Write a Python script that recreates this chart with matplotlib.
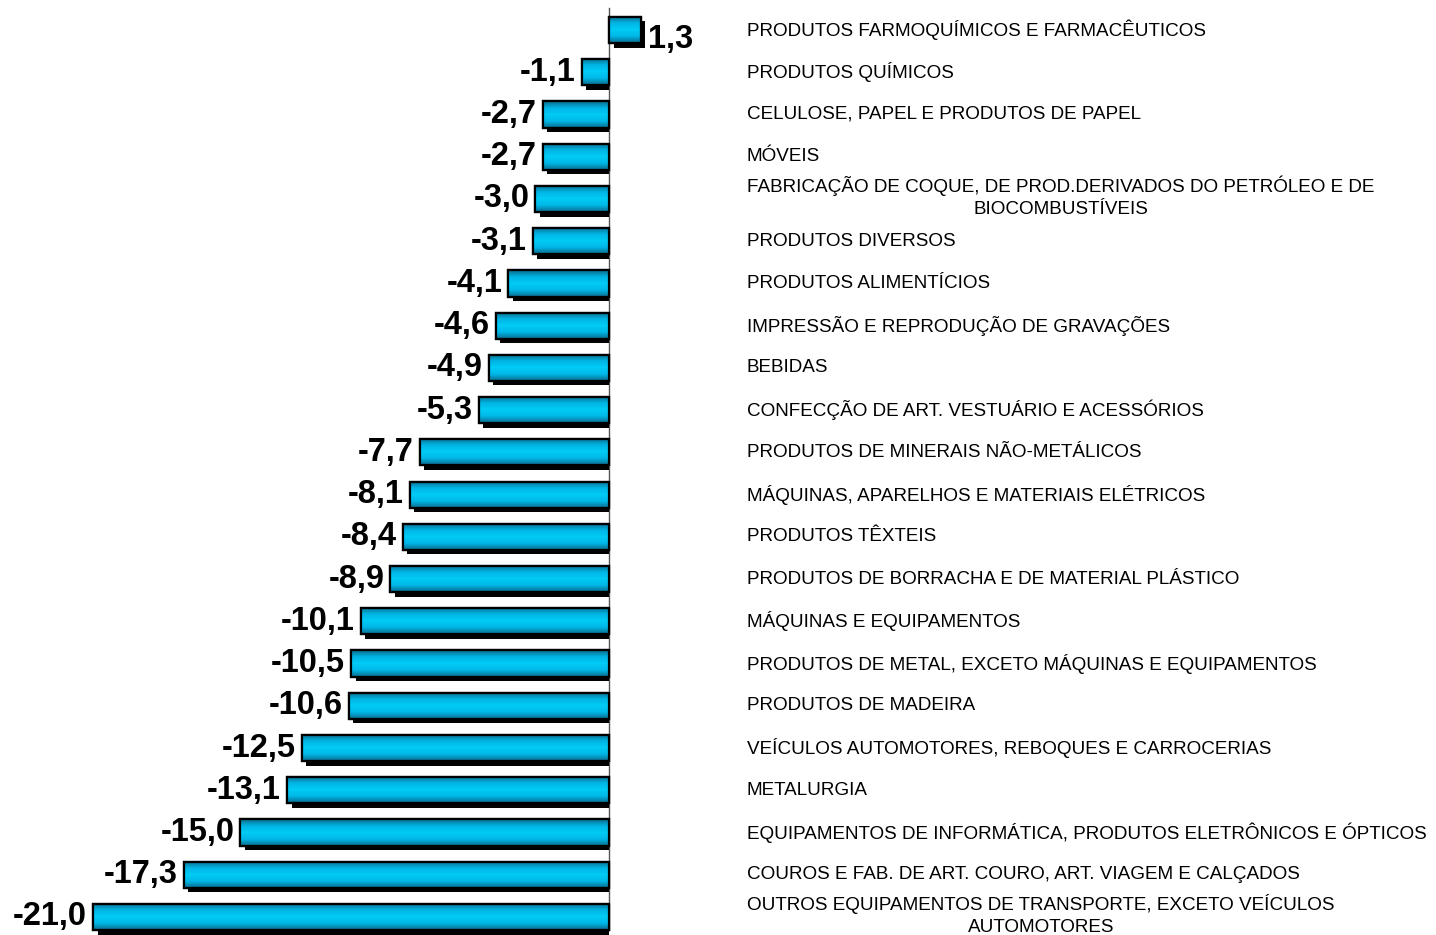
import numpy as np
import matplotlib
matplotlib.use("Agg")
import matplotlib.pyplot as plt
import matplotlib.transforms as mtransforms
from matplotlib.colors import LinearSegmentedColormap

# Dados: variação (%) por atividade industrial
setores = [
    "PRODUTOS FARMOQUÍMICOS E FARMACÊUTICOS",
    "PRODUTOS QUÍMICOS",
    "CELULOSE, PAPEL E PRODUTOS DE PAPEL",
    "MÓVEIS",
    "FABRICAÇÃO DE COQUE, DE PROD.DERIVADOS DO PETRÓLEO E DE\nBIOCOMBUSTÍVEIS",
    "PRODUTOS DIVERSOS",
    "PRODUTOS ALIMENTÍCIOS",
    "IMPRESSÃO E REPRODUÇÃO DE GRAVAÇÕES",
    "BEBIDAS",
    "CONFECÇÃO DE ART. VESTUÁRIO E ACESSÓRIOS",
    "PRODUTOS DE MINERAIS NÃO-METÁLICOS",
    "MÁQUINAS, APARELHOS E MATERIAIS ELÉTRICOS",
    "PRODUTOS TÊXTEIS",
    "PRODUTOS DE BORRACHA E DE MATERIAL PLÁSTICO",
    "MÁQUINAS E EQUIPAMENTOS",
    "PRODUTOS DE METAL, EXCETO MÁQUINAS E EQUIPAMENTOS",
    "PRODUTOS DE MADEIRA",
    "VEÍCULOS AUTOMOTORES, REBOQUES E CARROCERIAS",
    "METALURGIA",
    "EQUIPAMENTOS DE INFORMÁTICA, PRODUTOS ELETRÔNICOS E ÓPTICOS",
    "COUROS E FAB. DE ART. COURO, ART. VIAGEM E CALÇADOS",
    "OUTROS EQUIPAMENTOS DE TRANSPORTE, EXCETO VEÍCULOS\nAUTOMOTORES",
]
valores = [1.3, -1.1, -2.7, -2.7, -3.0, -3.1, -4.1, -4.6, -4.9, -5.3, -7.7,
           -8.1, -8.4, -8.9, -10.1, -10.5, -10.6, -12.5, -13.1, -15.0, -17.3, -21.0]

W, H = 1436, 935
fig = plt.figure(figsize=(W / 100, H / 100), dpi=100)
ax = fig.add_axes([0, 0, 1, 1])
ax.axis("off")

# escala: zero em x=609 px, -21 em x=93 px
px_por_unid = (609 - 93) / 21.0
ax.set_xlim(-609 / px_por_unid, (W - 609) / px_por_unid)
passo = (917 - 30) / 21.0
ax.set_ylim(21 + (H - 917) / passo, -30 / passo)

cmap = LinearSegmentedColormap.from_list(
    "ciano", ["#0b6a8a", "#00b4e4", "#00ccf6", "#00b8e8", "#0a6a8c"])
grad = np.linspace(0, 1, 64).reshape(-1, 1)

altura = 0.62
dx = 4.5 / px_por_unid   # deslocamento da sombra
dy = 4.5 / passo
y = np.arange(len(valores))
barras = ax.barh(y, valores, height=altura, color="#00c0ee",
                 edgecolor="black", linewidth=1.6, zorder=2)
for b, v, yi in zip(barras, valores, y):
    x0, x1 = min(0, v), max(0, v)
    # sombra (cortada no zero para as barras negativas)
    sx0, sx1 = x0 + dx, (x1 + dx if v > 0 else 0)
    ax.add_patch(plt.Rectangle((sx0, yi - altura / 2 + dy), sx1 - sx0, altura,
                               facecolor="black", edgecolor="none", zorder=1.5))
    im = ax.imshow(grad, extent=[x0, x1, yi + altura / 2, yi - altura / 2],
                   aspect="auto", cmap=cmap, zorder=3, interpolation="bilinear")
    im.set_clip_path(b)
    ax.add_patch(plt.Rectangle((x0, yi - altura / 2), x1 - x0, altura, fill=False,
                               edgecolor="black", linewidth=1.6, zorder=4))
    rotulo = f"{v:.1f}".replace(".", ",")
    if v < 0:
        ax.text(v - 6 / px_por_unid, yi, rotulo, ha="right", va="center",
                fontsize=23.5, fontweight="bold", family="Liberation Sans", zorder=5)
    else:
        ax.text(v + 7 / px_por_unid, yi + 0.22, rotulo, ha="left", va="center",
                fontsize=23.5, fontweight="bold", family="Liberation Sans", zorder=5)

# linha do zero
ax.plot([0, 0], [-0.52, 21.3], color="#555555", linewidth=1, zorder=1)

# rótulos das categorias
trans = mtransforms.blended_transform_factory(fig.transFigure, ax.transData)
for s, yi in zip(setores, y):
    ax.text(747 / W, yi - (0.05 if "\n" in s else 0), s, transform=trans,
            ha="left", va="center", multialignment="center", fontsize=13.6,
            family="Liberation Sans", linespacing=1.4)

fig.savefig("out.png", dpi=100)
